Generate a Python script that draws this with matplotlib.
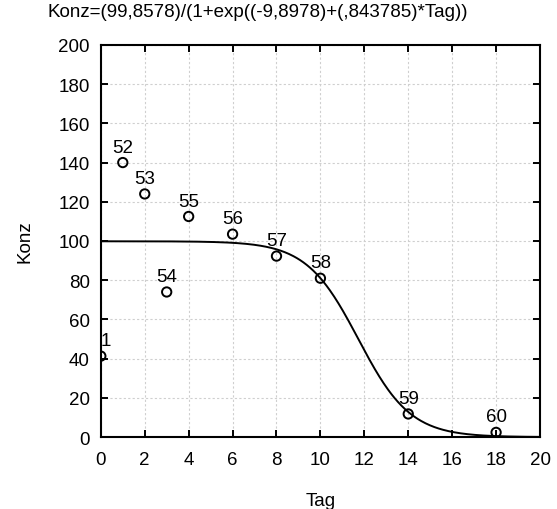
import numpy as np
import matplotlib
matplotlib.use("Agg")
import matplotlib.pyplot as plt

plt.rcParams['font.family'] = ['Liberation Sans', 'DejaVu Sans']

# Observations
tag = [0, 1, 2, 3, 4, 6, 8, 10, 14, 18]
konz = [41.3, 140.0, 124.0, 74.0, 112.5, 103.5, 92.3, 81.0, 11.8, 2.4]
case_ids = ["1", "52", "53", "54", "55", "56", "57", "58", "59", "60"]

# Fitted logistic model parameters
p_a, p_b, p_c = 99.8578, -9.8978, 0.843785

x_ticks = list(range(0, 21, 2))
y_ticks = list(range(0, 201, 20))

FS = 13.5

fig = plt.figure(figsize=(5.57, 5.10), dpi=100)
ax = fig.add_axes([0.181, 0.141, 0.7885, 0.769])

xs = np.linspace(0, 20, 400)
ax.plot(xs, p_a / (1 + np.exp(p_b + p_c * xs)), color='black', lw=1.4, zorder=3)
ax.scatter(tag, konz, s=45, facecolors='none', edgecolors='black', linewidths=1.4,
           zorder=4)
x_lo = x_ticks[0]
for x, y, t in zip(tag, konz, case_ids):
    # labels on the left edge are kept inside the frame
    ha = 'left' if x <= x_lo else 'center'
    ax.annotate(t, (x, y), xytext=(0, 5), textcoords='offset points',
                ha=ha, va='bottom', fontsize=FS)

ax.set_xlim(x_ticks[0], x_ticks[-1])
ax.set_ylim(y_ticks[0], y_ticks[-1])
ax.set_xticks(x_ticks)
ax.set_yticks(y_ticks)
ax.tick_params(direction='in', top=True, right=True, labeltop=False, labelright=False,
               length=5, width=1.4, labelsize=FS)
ax.tick_params(axis='x', pad=10)
ax.tick_params(axis='y', pad=8)
ax.grid(True, color='#cfcfcf', linestyle=(0, (2, 2)), linewidth=0.8)
ax.set_axisbelow(True)
for s in ax.spines.values():
    s.set_linewidth(1.5)

ax.set_xlabel('Tag', fontsize=FS, labelpad=17)
ax.set_ylabel('Konz', fontsize=FS, labelpad=18)
fig.text(0.462, 0.976, 'Konz=(99,8578)/(1+exp((-9,8978)+(,843785)*Tag))',
         fontsize=FS, ha='center', va='center')

fig.savefig('out.png', dpi=100)
